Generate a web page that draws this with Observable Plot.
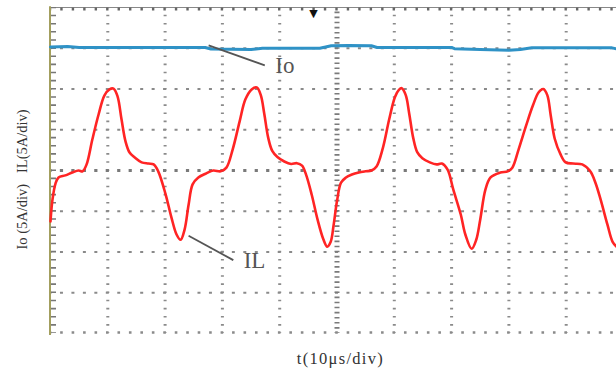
<!DOCTYPE html>
<html>
<head>
<meta charset="utf-8">
<script src="https://cdn.jsdelivr.net/npm/d3@7"></script>
<script src="https://cdn.jsdelivr.net/npm/@observablehq/plot@0.6"></script>
<style>
  html, body { margin: 0; padding: 0; background: #fff; overflow: hidden; }
  #chart svg { display: block; overflow: hidden; }
</style>
</head>
<body>
<div id="chart"></div>
<script>
// time in µs (10 µs/div), current in divisions (5 A/div)
const ilTime = [0,0.35,0.87,1.4,2.6,3.8,4.9,5.6,6.3,7.3,8.4,9.4,10.3,11.0,11.7,12.4,13.1,13.8,14.7,15.9,17.1,18.0,18.8,20.1,21.1,22.0,22.7,23.4,24.1,24.8,25.8,27.2,28.4,29.7,30.7,31.8,33.0,34.0,35.1,36.0,
  36.7,37.3,38.0,38.7,39.6,40.8,42.0,43.0,43.9,44.6,45.6,46.6,47.6,48.3,48.9,49.4,50.0,50.7,51.5,52.6,53.8,55.0,56.0,56.9,58.0,59.1,60.1,60.8,61.3,
  62.0,62.6,63.3,64.0,64.9,66.2,67.4,68.3,69.3,70.3,71.6,72.4,73.5,74.3,75.0,75.9,76.8,78.5,79.8,80.6,81.7,83.0,84.2,85.2,86.0,
  86.7,87.3,88.0,89.0,89.9,91.2,92.8,94.2,95.1,96.0,97.2,98.1,98.8];
const ilValue = [-1.25,-0.71,-0.32,-0.17,-0.12,-0.05,0,-0.02,0.15,0.76,1.38,1.84,1.99,2.01,1.82,1.25,0.71,0.44,0.32,0.2,0.17,0.15,-0.02,-0.59,-1.15,-1.57,-1.70,-1.45,-0.84,-0.34,-0.17,-0.07,0,-0.02,0.07,0.52,1.2,1.74,1.99,2.04,
  1.85,1.40,0.80,0.48,0.33,0.22,0.16,0.18,0.12,-0.10,-0.60,-1.20,-1.68,-1.87,-1.75,-1.35,-0.75,-0.30,-0.18,-0.10,-0.05,-0.02,0.0,0.10,0.55,1.25,1.80,1.98,2.02,
  1.85,1.40,0.80,0.45,0.30,0.20,0.15,0.17,0.02,-0.47,-1.08,-1.57,-1.92,-1.70,-1.20,-0.47,-0.17,-0.05,-0.02,0.07,0.52,1.10,1.60,1.92,2.00,
  1.85,1.35,0.78,0.40,0.20,0.17,0.15,-0.02,-0.30,-0.71,-1.33,-1.75,-1.87];

const ioTime  = [0,3,5,27,28,35,37,47,49,52,56,57,70,70.5,75,80,82,84,98,99,100];
const ioValue = [3.03,3.04,3.02,3.02,2.98,2.97,3.0,3.0,3.06,3.07,3.06,3.02,3.02,2.99,2.97,2.95,2.97,3.01,3.01,2.98,2.98];

const gridX = [10,20,30,40,60,70,80,90];
const gridY = [-3,-2,-1,1,2,3];

const labelText = ["Io", "IL"];
const labelT = [40.9, 35.6];
const labelV = [2.57, -2.22];
const leaderT1 = [27.6, 24.1], leaderV1 = [3.07, -1.60];
const leaderT2 = [37.4, 31.9], leaderV2 = [2.58, -2.20];

const xTitle = "t(10μs/div)";
const yTitle = "Io (5A/div)   IL(5A/div)";

const il = ilTime.map((t, i) => ({t, v: ilValue[i]}));
const io = ioTime.map((t, i) => ({t, v: ioValue[i]}));
const labels = labelText.map((s, i) => ({s, t: labelT[i], v: labelV[i]}));
const leaders = leaderT1.map((t1, i) => ({t1, v1: leaderV1[i], t2: leaderT2[i], v2: leaderV2[i]}));

const serif = "'Liberation Serif', 'DejaVu Serif', serif";
const xs = {x1: () => 0, x2: () => 100};
const ys = {y1: () => -4, y2: () => 4};

const chart = Plot.plot({
  width: 616,
  height: 374,
  margin: 0,
  x: {domain: [0, 100], range: [50, 623], axis: null},
  y: {domain: [-4, 4], range: [333, 7], axis: null},
  style: {fontFamily: serif, background: "#fff"},
  marks: [
    // regular grid
    Plot.ruleY(gridY, {...xs, stroke: "#8a8a8a", strokeWidth: 2, strokeDasharray: "3,8.46", strokeDashoffset: 1.5}),
    Plot.ruleX(gridX, {...ys, stroke: "#8a8a8a", strokeWidth: 3, strokeDasharray: "1.6,6.54", strokeDashoffset: 0.8}),
    // centre axes
    Plot.ruleY([0], {...xs, stroke: "#7a7a7a", strokeWidth: 3.2, strokeDasharray: "3.2,8.26", strokeDashoffset: 1.6}),
    Plot.ruleX([50], {...ys, stroke: "#7a7a7a", strokeWidth: 5, strokeDasharray: "1.6,3.49", strokeDashoffset: 0.8}),
    // frame: top border with ticks, bottom dots, left border with ticks
    Plot.ruleY([4], {...xs, stroke: "#888", strokeWidth: 1}),
    Plot.ruleY([4], {...xs, stroke: "#666", strokeWidth: 3, dy: 1.5, strokeDasharray: "2.4,9.06", strokeDashoffset: 1.2}),
    Plot.ruleY([-4], {...xs, stroke: "#8a8a8a", strokeWidth: 2.4, dy: -1, strokeDasharray: "2.6,8.86", strokeDashoffset: 1.3}),
    Plot.ruleX([0], {...ys, stroke: "#777", strokeWidth: 5, dx: 3, strokeDasharray: "1.6,6.54", strokeDashoffset: 0.8}),
    Plot.ruleX([0], {y1: () => -4.05, y2: () => 4.02, stroke: "#a39f5e", strokeWidth: 2, dx: -0.5}),
    // trigger marker
    Plot.text([{t: 45.9, v: 3.86}], {x: "t", y: "v", text: () => "▼", fill: "#111", fontSize: 11, fontFamily: "DejaVu Sans"}),
    // traces
    Plot.line(io, {x: "t", y: "v", stroke: "#2f92c6", strokeWidth: 3, curve: "linear"}),
    Plot.line(il, {x: "t", y: "v", stroke: "#ff2424", strokeWidth: 2.6, curve: "catmull-rom"}),
    // annotations
    Plot.link(leaders, {x1: "t1", y1: "v1", x2: "t2", y2: "v2", stroke: "#555", strokeWidth: 1.8}),
    Plot.text(labels, {x: "t", y: "v", text: "s", fontSize: 23, fill: "#555", fontFamily: serif}),
    Plot.text([{t: 50.6, v: -4.62}], {x: "t", y: "v", text: () => xTitle, fontSize: 16.5, fill: "#333", fontFamily: serif}),
    Plot.text([{t: -4.85, v: -0.22}], {x: "t", y: "v", text: () => yTitle, rotate: -90, fontSize: 14.5, fill: "#333", fontFamily: serif})
  ]
});
d3.select(chart).selectAll("text").filter(function() { return this.textContent === xTitle; })
  .attr("letter-spacing", "1.3px");
document.getElementById("chart").append(chart);
</script>
</body>
</html>
